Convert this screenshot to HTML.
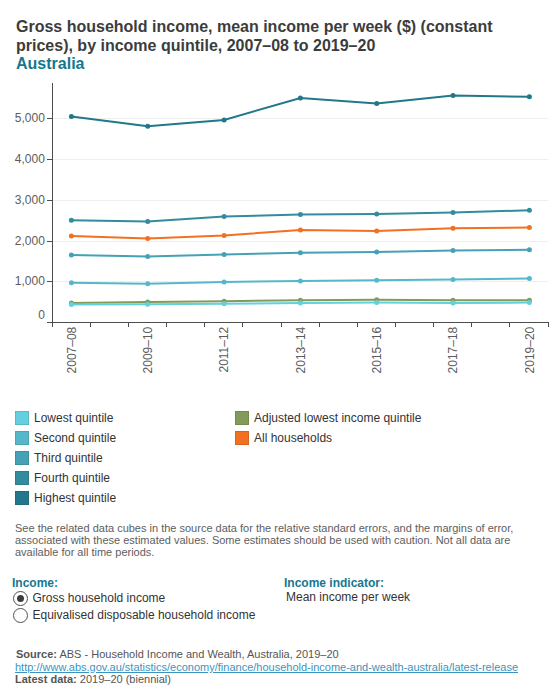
<!DOCTYPE html>
<html><head><meta charset="utf-8">
<style>
html,body{margin:0;padding:0;background:#fff;width:560px;height:700px;overflow:hidden;}
body{font-family:"Liberation Sans",sans-serif;color:#333;position:relative;}
.title{position:absolute;left:16px;top:18px;font-size:16px;font-weight:bold;line-height:18.5px;color:#3c3c3c;margin:0;}
.title .geo{color:#16788f;}
svg{position:absolute;left:0;top:0;}
svg text{font-family:"Liberation Sans",sans-serif;font-size:12px;fill:#5c5c5c;}
.li{position:absolute;height:14px;}
.sw{position:absolute;left:0;top:0;width:14px;height:14px;box-sizing:border-box;border:1px solid rgba(0,0,0,0.1);}
.lt{position:absolute;left:19px;top:-1px;font-size:12px;line-height:16px;white-space:nowrap;color:#333;}
.note{position:absolute;left:15px;top:522px;width:530px;font-size:11px;line-height:12px;color:#5e5e5e;}
.h{position:absolute;font-size:12px;font-weight:bold;color:#16788f;}
.radio{position:absolute;font-size:12px;color:#333;white-space:nowrap;}
.rc{position:absolute;width:15px;height:15px;border:1px solid #505050;border-radius:50%;box-sizing:border-box;background:#fff;}
.dot{position:absolute;left:3px;top:3px;width:7px;height:7px;border-radius:50%;background:#3a3d40;}
.src{position:absolute;left:15px;top:648px;font-size:11px;line-height:12.4px;color:#555;white-space:nowrap;}
.src b{color:#555;}
.src a{color:#3b94c0;text-decoration:underline;}
</style></head><body>
<div class="title">Gross household income, mean income per week ($) (constant<br>prices), by income quintile, 2007–08 to 2019–20<br><span class="geo">Australia</span></div>
<svg width="560" height="400" viewBox="0 0 560 400">
<line x1="53" y1="281.5" x2="548" y2="281.5" stroke="#efefef" stroke-width="1"/>
<line x1="53" y1="241.5" x2="548" y2="241.5" stroke="#efefef" stroke-width="1"/>
<line x1="53" y1="200.5" x2="548" y2="200.5" stroke="#efefef" stroke-width="1"/>
<line x1="53" y1="159.5" x2="548" y2="159.5" stroke="#efefef" stroke-width="1"/>
<line x1="53" y1="118.5" x2="548" y2="118.5" stroke="#efefef" stroke-width="1"/>
<line x1="52.5" y1="83" x2="52.5" y2="322.5" stroke="#4d4d4d" stroke-width="1"/>
<line x1="52" y1="322.5" x2="549" y2="322.5" stroke="#4d4d4d" stroke-width="1"/>
<line x1="47" y1="322.5" x2="52" y2="322.5" stroke="#4d4d4d" stroke-width="1"/>
<line x1="47" y1="281.5" x2="52" y2="281.5" stroke="#4d4d4d" stroke-width="1"/>
<line x1="47" y1="241.5" x2="52" y2="241.5" stroke="#4d4d4d" stroke-width="1"/>
<line x1="47" y1="200.5" x2="52" y2="200.5" stroke="#4d4d4d" stroke-width="1"/>
<line x1="47" y1="159.5" x2="52" y2="159.5" stroke="#4d4d4d" stroke-width="1"/>
<line x1="47" y1="118.5" x2="52" y2="118.5" stroke="#4d4d4d" stroke-width="1"/>
<line x1="52.5" y1="322" x2="52.5" y2="327" stroke="#4d4d4d" stroke-width="1"/>
<line x1="90.5" y1="322" x2="90.5" y2="327" stroke="#4d4d4d" stroke-width="1"/>
<line x1="128.5" y1="322" x2="128.5" y2="327" stroke="#4d4d4d" stroke-width="1"/>
<line x1="166.5" y1="322" x2="166.5" y2="327" stroke="#4d4d4d" stroke-width="1"/>
<line x1="204.5" y1="322" x2="204.5" y2="327" stroke="#4d4d4d" stroke-width="1"/>
<line x1="242.5" y1="322" x2="242.5" y2="327" stroke="#4d4d4d" stroke-width="1"/>
<line x1="281.5" y1="322" x2="281.5" y2="327" stroke="#4d4d4d" stroke-width="1"/>
<line x1="319.5" y1="322" x2="319.5" y2="327" stroke="#4d4d4d" stroke-width="1"/>
<line x1="357.5" y1="322" x2="357.5" y2="327" stroke="#4d4d4d" stroke-width="1"/>
<line x1="395.5" y1="322" x2="395.5" y2="327" stroke="#4d4d4d" stroke-width="1"/>
<line x1="433.5" y1="322" x2="433.5" y2="327" stroke="#4d4d4d" stroke-width="1"/>
<line x1="471.5" y1="322" x2="471.5" y2="327" stroke="#4d4d4d" stroke-width="1"/>
<line x1="509.5" y1="322" x2="509.5" y2="327" stroke="#4d4d4d" stroke-width="1"/>
<line x1="548.5" y1="322" x2="548.5" y2="327" stroke="#4d4d4d" stroke-width="1"/>
<text x="44.9" y="319.0" text-anchor="end">0</text>
<text x="44.9" y="284.7" text-anchor="end">1,000</text>
<text x="44.9" y="244.7" text-anchor="end">2,000</text>
<text x="44.9" y="203.7" text-anchor="end">3,000</text>
<text x="44.9" y="162.7" text-anchor="end">4,000</text>
<text x="44.9" y="121.7" text-anchor="end">5,000</text>
<text transform="translate(75.5,326.7) rotate(-90)" text-anchor="end">2007–08</text>
<text transform="translate(151.8,326.7) rotate(-90)" text-anchor="end">2009–10</text>
<text transform="translate(228.2,326.7) rotate(-90)" text-anchor="end">2011–12</text>
<text transform="translate(304.5,326.7) rotate(-90)" text-anchor="end">2013–14</text>
<text transform="translate(380.8,326.7) rotate(-90)" text-anchor="end">2015–16</text>
<text transform="translate(457.1,326.7) rotate(-90)" text-anchor="end">2017–18</text>
<text transform="translate(533.5,326.7) rotate(-90)" text-anchor="end">2019–20</text>
<polyline points="71.4,302.9 147.7,302.0 224.1,301.2 300.4,300.3 376.7,299.8 453.0,300.3 529.4,300.3" fill="none" stroke="#829B59" stroke-width="2"/>
<circle cx="71.4" cy="302.9" r="2.5" fill="#829B59"/>
<circle cx="147.7" cy="302.0" r="2.5" fill="#829B59"/>
<circle cx="224.1" cy="301.2" r="2.5" fill="#829B59"/>
<circle cx="300.4" cy="300.3" r="2.5" fill="#829B59"/>
<circle cx="376.7" cy="299.8" r="2.5" fill="#829B59"/>
<circle cx="453.0" cy="300.3" r="2.5" fill="#829B59"/>
<circle cx="529.4" cy="300.3" r="2.5" fill="#829B59"/>
<polyline points="71.4,304.6 147.7,304.3 224.1,303.8 300.4,302.9 376.7,302.6 453.0,302.9 529.4,302.6" fill="none" stroke="#63CFDF" stroke-width="2"/>
<circle cx="71.4" cy="304.6" r="2.5" fill="#63CFDF"/>
<circle cx="147.7" cy="304.3" r="2.5" fill="#63CFDF"/>
<circle cx="224.1" cy="303.8" r="2.5" fill="#63CFDF"/>
<circle cx="300.4" cy="302.9" r="2.5" fill="#63CFDF"/>
<circle cx="376.7" cy="302.6" r="2.5" fill="#63CFDF"/>
<circle cx="453.0" cy="302.9" r="2.5" fill="#63CFDF"/>
<circle cx="529.4" cy="302.6" r="2.5" fill="#63CFDF"/>
<polyline points="71.4,282.7 147.7,283.7 224.1,282.0 300.4,281.0 376.7,280.3 453.0,279.4 529.4,278.6" fill="none" stroke="#55B8CA" stroke-width="2"/>
<circle cx="71.4" cy="282.7" r="2.5" fill="#55B8CA"/>
<circle cx="147.7" cy="283.7" r="2.5" fill="#55B8CA"/>
<circle cx="224.1" cy="282.0" r="2.5" fill="#55B8CA"/>
<circle cx="300.4" cy="281.0" r="2.5" fill="#55B8CA"/>
<circle cx="376.7" cy="280.3" r="2.5" fill="#55B8CA"/>
<circle cx="453.0" cy="279.4" r="2.5" fill="#55B8CA"/>
<circle cx="529.4" cy="278.6" r="2.5" fill="#55B8CA"/>
<polyline points="71.4,254.9 147.7,256.6 224.1,254.4 300.4,252.8 376.7,252.0 453.0,250.6 529.4,249.7" fill="none" stroke="#45A2B6" stroke-width="2"/>
<circle cx="71.4" cy="254.9" r="2.5" fill="#45A2B6"/>
<circle cx="147.7" cy="256.6" r="2.5" fill="#45A2B6"/>
<circle cx="224.1" cy="254.4" r="2.5" fill="#45A2B6"/>
<circle cx="300.4" cy="252.8" r="2.5" fill="#45A2B6"/>
<circle cx="376.7" cy="252.0" r="2.5" fill="#45A2B6"/>
<circle cx="453.0" cy="250.6" r="2.5" fill="#45A2B6"/>
<circle cx="529.4" cy="249.7" r="2.5" fill="#45A2B6"/>
<polyline points="71.4,220.2 147.7,221.4 224.1,216.6 300.4,214.6 376.7,214.1 453.0,212.5 529.4,210.3" fill="none" stroke="#338C9E" stroke-width="2"/>
<circle cx="71.4" cy="220.2" r="2.5" fill="#338C9E"/>
<circle cx="147.7" cy="221.4" r="2.5" fill="#338C9E"/>
<circle cx="224.1" cy="216.6" r="2.5" fill="#338C9E"/>
<circle cx="300.4" cy="214.6" r="2.5" fill="#338C9E"/>
<circle cx="376.7" cy="214.1" r="2.5" fill="#338C9E"/>
<circle cx="453.0" cy="212.5" r="2.5" fill="#338C9E"/>
<circle cx="529.4" cy="210.3" r="2.5" fill="#338C9E"/>
<polyline points="71.4,116.4 147.7,126.3 224.1,119.9 300.4,98.0 376.7,103.5 453.0,95.4 529.4,96.8" fill="none" stroke="#22788A" stroke-width="2"/>
<circle cx="71.4" cy="116.4" r="2.5" fill="#22788A"/>
<circle cx="147.7" cy="126.3" r="2.5" fill="#22788A"/>
<circle cx="224.1" cy="119.9" r="2.5" fill="#22788A"/>
<circle cx="300.4" cy="98.0" r="2.5" fill="#22788A"/>
<circle cx="376.7" cy="103.5" r="2.5" fill="#22788A"/>
<circle cx="453.0" cy="95.4" r="2.5" fill="#22788A"/>
<circle cx="529.4" cy="96.8" r="2.5" fill="#22788A"/>
<polyline points="71.4,236.0 147.7,238.4 224.1,235.5 300.4,230.0 376.7,230.9 453.0,228.3 529.4,227.4" fill="none" stroke="#F27021" stroke-width="2"/>
<circle cx="71.4" cy="236.0" r="2.5" fill="#F27021"/>
<circle cx="147.7" cy="238.4" r="2.5" fill="#F27021"/>
<circle cx="224.1" cy="235.5" r="2.5" fill="#F27021"/>
<circle cx="300.4" cy="230.0" r="2.5" fill="#F27021"/>
<circle cx="376.7" cy="230.9" r="2.5" fill="#F27021"/>
<circle cx="453.0" cy="228.3" r="2.5" fill="#F27021"/>
<circle cx="529.4" cy="227.4" r="2.5" fill="#F27021"/>
</svg>
<div class="li" style="left:15px;top:411px"><span class="sw" style="background:#63CFDF"></span><span class="lt">Lowest quintile</span></div>
<div class="li" style="left:15px;top:431px"><span class="sw" style="background:#55B8CA"></span><span class="lt">Second quintile</span></div>
<div class="li" style="left:15px;top:451px"><span class="sw" style="background:#45A2B6"></span><span class="lt">Third quintile</span></div>
<div class="li" style="left:15px;top:471px"><span class="sw" style="background:#338C9E"></span><span class="lt">Fourth quintile</span></div>
<div class="li" style="left:15px;top:491px"><span class="sw" style="background:#22788A"></span><span class="lt">Highest quintile</span></div>
<div class="li" style="left:235px;top:411px"><span class="sw" style="background:#829B59"></span><span class="lt">Adjusted lowest income quintile</span></div>
<div class="li" style="left:235px;top:431px"><span class="sw" style="background:#F27021"></span><span class="lt">All households</span></div>
<div class="note">See the related data cubes in the source data for the relative standard errors, and the margins of error, associated with these estimated values. Some estimates should be used with caution. Not all data are available for all time periods.</div>
<div class="h" style="left:12px;top:576px;">Income:</div>
<span class="rc" style="left:13px;top:591px;"><span class="dot"></span></span><div class="radio" style="left:32.5px;top:591px;">Gross household income</div>
<span class="rc" style="left:13px;top:608px;"></span><div class="radio" style="left:32.5px;top:607.5px;">Equivalised disposable household income</div>
<div class="h" style="left:284px;top:576px;">Income indicator:</div>
<div class="radio" style="left:286px;top:590px;">Mean income per week</div>
<div class="src"><span style="position:relative;left:1px"><b>Source:</b> ABS - Household Income and Wealth, Australia, 2019–20</span><br><a style="position:relative;top:0.5px">http://www.abs.gov.au/statistics/economy/finance/household-income-and-wealth-australia/latest-release</a><br><b>Latest data:</b> 2019–20 (biennial)</div>
</body></html>
